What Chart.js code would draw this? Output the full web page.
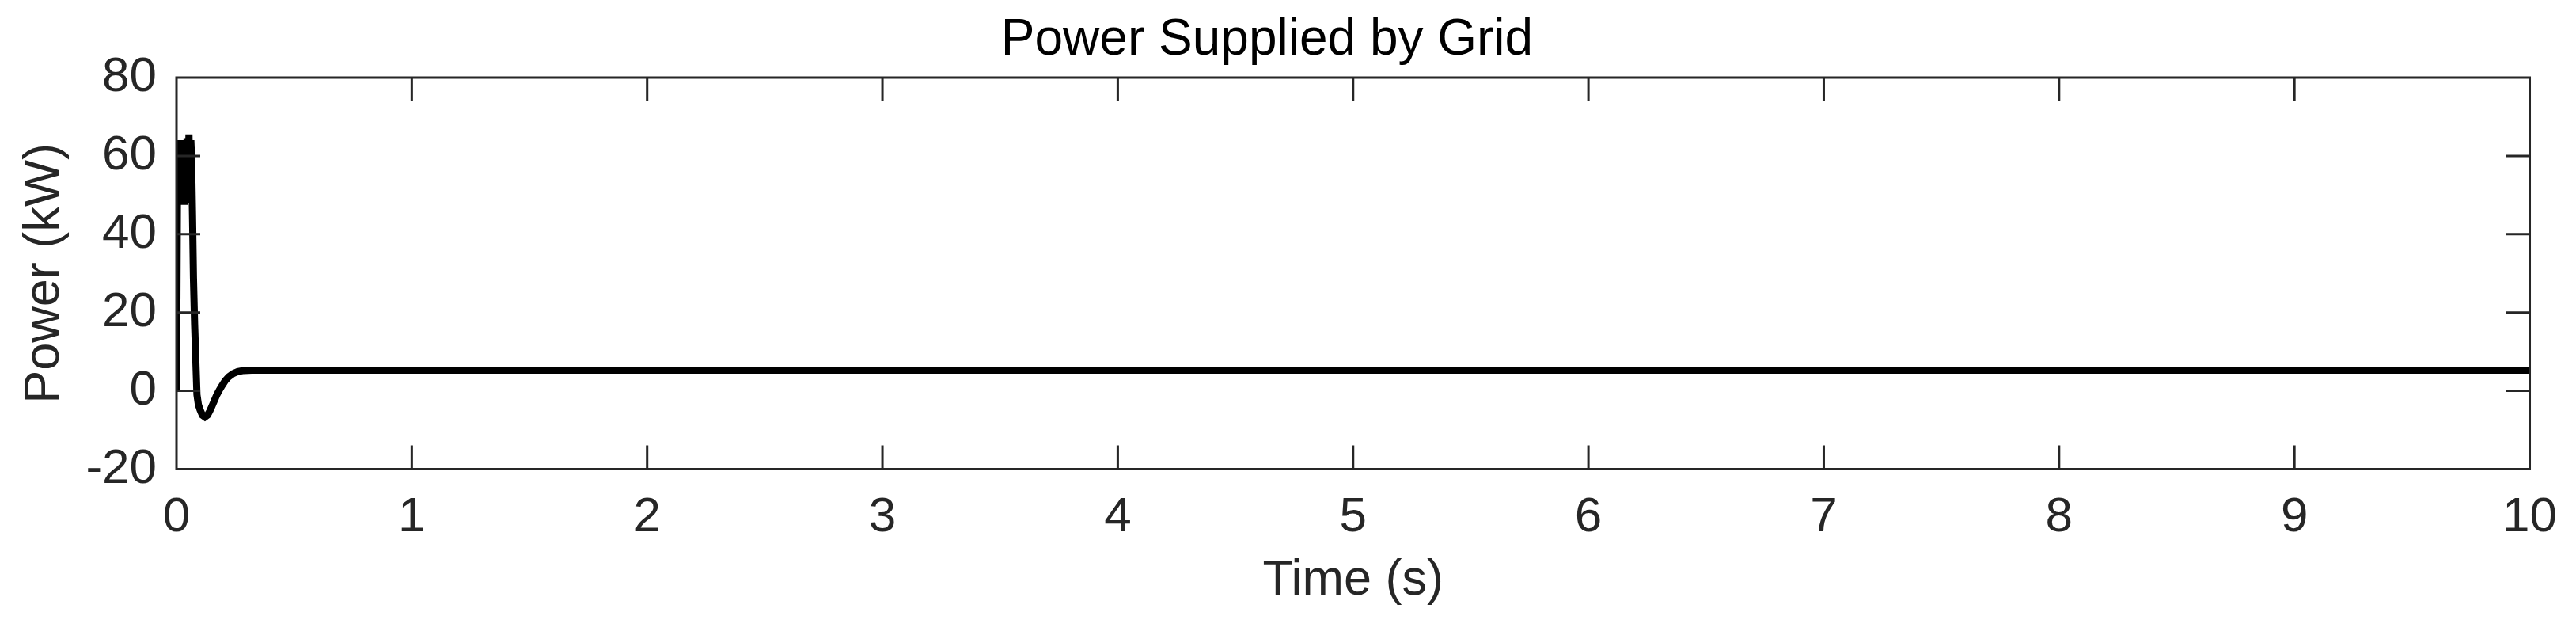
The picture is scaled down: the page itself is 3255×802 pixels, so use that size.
<!DOCTYPE html>
<html>
<head>
<meta charset="utf-8">
<script src="https://cdn.jsdelivr.net/npm/chart.js@4/dist/chart.umd.min.js"></script>
<style>
  html, body { margin: 0; padding: 0; background: #ffffff; }
  #c { display: block; }
</style>
</head>
<body>
<canvas id="c" width="3255" height="802"></canvas>
<script>
// ---- data ----
const timeSec = [0, 0.005, 0.009, 0.013, 0.017, 0.021, 0.025, 0.029, 0.033, 0.037, 0.041, 0.045, 0.049, 0.053, 0.057, 0.061,
  0.064, 0.068, 0.072, 0.077, 0.082, 0.087, 0.093, 0.100, 0.110, 0.121, 0.132, 0.141, 0.150, 0.160, 0.170, 0.182, 0.194,
  0.207, 0.222, 0.240, 0.260, 0.285, 0.32, 0.4, 0.5, 1, 2, 3, 4, 5, 6, 7, 8, 9, 10];
const powerKW = [0, 63.5, 48, 64, 47.5, 64, 48, 63.5, 47.5, 64, 48, 64.5, 48.5, 65.5, 49, 64,
  59, 45, 29, 17, 8, -1, -3.5, -4.8, -6.2, -6.7, -6.2, -5.2, -4.0, -2.6, -1.2, 0.2, 1.4,
  2.6, 3.6, 4.4, 4.9, 5.2, 5.3, 5.3, 5.3, 5.3, 5.3, 5.3, 5.3, 5.3, 5.3, 5.3, 5.3, 5.3, 5.3];
const xTicks = [0, 1, 2, 3, 4, 5, 6, 7, 8, 9, 10];
const yTicks = [-20, 0, 20, 40, 60, 80];
const titleText = 'Power Supplied by Grid';
const xLabel = 'Time (s)';
const yLabel = 'Power (kW)';

const axisColor = '#262626';
const FONT = "'Liberation Sans', Arial, Helvetica, sans-serif";

const points = timeSec.map((t, i) => ({ x: t, y: powerKW[i] }));

// box + inward ticks on all four sides (MATLAB style)
const boxPlugin = {
  id: 'matlabBox',
  afterDraw(chart) {
    const { ctx, chartArea: a, scales } = chart;
    const xs = scales.x, ys = scales.y;
    const tl = 30;
    ctx.save();
    ctx.strokeStyle = axisColor;
    ctx.lineWidth = 3;
    ctx.beginPath();
    xTicks.forEach(v => {
      if (v === xs.min || v === xs.max) return;
      const px = xs.getPixelForValue(v);
      ctx.moveTo(px, a.bottom); ctx.lineTo(px, a.bottom - tl);
      ctx.moveTo(px, a.top); ctx.lineTo(px, a.top + tl);
    });
    yTicks.forEach(v => {
      if (v === ys.min || v === ys.max) return;
      const py = ys.getPixelForValue(v);
      ctx.moveTo(a.left, py); ctx.lineTo(a.left + tl, py);
      ctx.moveTo(a.right, py); ctx.lineTo(a.right - tl, py);
    });
    ctx.stroke();
    ctx.strokeRect(a.left, a.top, a.right - a.left, a.bottom - a.top);
    ctx.restore();
  }
};

new Chart(document.getElementById('c'), {
  type: 'line',
  data: {
    datasets: [{
      data: points,
      borderColor: '#000000',
      borderWidth: 9,
      pointRadius: 0,
      tension: 0,
      fill: false,
      clip: 0
    }]
  },
  options: {
    responsive: false,
    animation: false,
    devicePixelRatio: 1,
    layout: { padding: { left: 0, right: 53, top: 0, bottom: 0 } },
    plugins: {
      legend: { display: false },
      tooltip: { enabled: false },
      title: {
        display: true,
        text: titleText,
        color: '#000000',
        font: { family: FONT, size: 64, weight: 'normal', lineHeight: 1.2 },
        padding: { top: 12.6, bottom: 8.6 }
      }
    },
    scales: {
      x: {
        type: 'linear',
        min: 0, max: 10,
        afterBuildTicks(scale) { scale.ticks = xTicks.map(v => ({ value: v })); },
        afterFit(scale) { scale.height = 209.5; },
        grid: { display: false, drawTicks: false },
        border: { display: false },
        ticks: {
          color: axisColor,
          autoSkip: false,
          maxRotation: 0,
          padding: 24,
          font: { family: FONT, size: 62, lineHeight: 1.2 }
        },
        title: {
          display: true,
          text: xLabel,
          color: axisColor,
          font: { family: FONT, size: 63, lineHeight: 1.2 },
          padding: { top: 0, bottom: 31 }
        }
      },
      y: {
        type: 'linear',
        min: -20, max: 80,
        afterBuildTicks(scale) { scale.ticks = yTicks.map(v => ({ value: v })); },
        afterFit(scale) { scale.width = 223; },
        grid: { display: false, drawTicks: false },
        border: { display: false },
        ticks: {
          color: axisColor,
          padding: 25,
          font: { family: FONT, size: 62, lineHeight: 1.2 }
        },
        title: {
          display: true,
          text: yLabel,
          color: axisColor,
          font: { family: FONT, size: 63, lineHeight: 1.2 },
          padding: { top: 19, bottom: 0 }
        }
      }
    }
  },
  plugins: [boxPlugin]
});
</script>
</body>
</html>
